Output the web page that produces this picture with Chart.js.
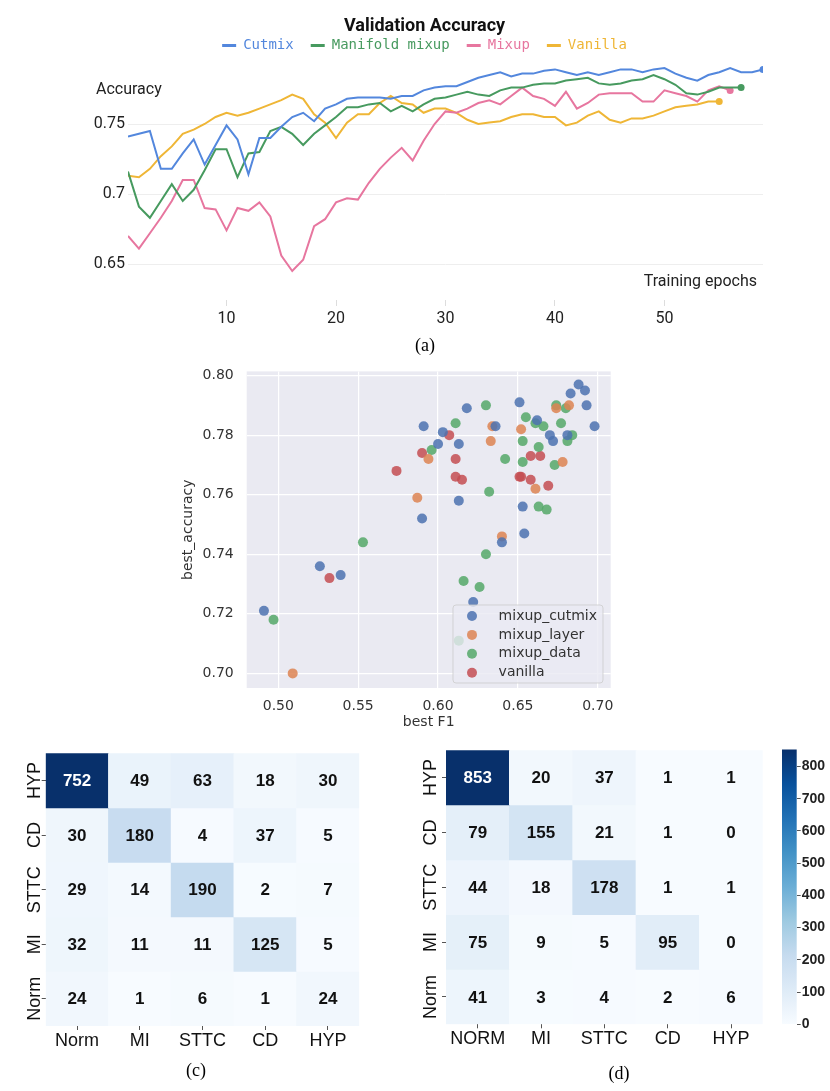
<!DOCTYPE html>
<html>
<head>
<meta charset="utf-8">
<script src="https://cdn.jsdelivr.net/npm/chart.js@4.4.1/dist/chart.umd.min.js"></script>
<style>
  body { margin: 0; background: #fff; width: 830px; height: 1091px; position: relative; overflow: hidden; }
  canvas { position: absolute; }
  .cap { position: absolute; font-family: "Liberation Serif", serif; font-size: 18px; color: #000; transform: translate(-50%, -50%); }
</style>
</head>
<body>
<canvas id="acc" style="left:0;top:0" width="830" height="335"></canvas>
<div class="cap" style="left:425px;top:345px">(a)</div>
<canvas id="scat" style="left:160px;top:350px" width="470" height="390"></canvas>
<canvas id="cmc" style="left:0;top:740px" width="400" height="320"></canvas>
<canvas id="cmd" style="left:410px;top:740px" width="360" height="320"></canvas>
<canvas id="cbar" style="left:770px;top:740px" width="60" height="300"></canvas>
<div class="cap" style="left:196px;top:1070px">(c)</div>
<div class="cap" style="left:619px;top:1073px">(d)</div>
<script>
// ---------- (a) validation accuracy ----------
var epochs = [1,2,3,4,5,6,7,8,9,10,11,12,13,14,15,16,17,18,19,20,21,22,23,24,25,26,27,28,29,30,
  31,32,33,34,35,36,37,38,39,40,41,42,43,44,45,46,47,48,49,50,51,52,53,54,55,56,57,58,59];
var cutmix = [0.741,0.743,0.745,0.718,0.718,0.729,0.739,0.721,0.735,0.749,0.739,0.714,0.740,0.740,0.748,
  0.755,0.758,0.752,0.761,0.764,0.768,0.769,0.769,0.769,0.768,0.770,0.770,0.774,0.776,0.777,
  0.777,0.780,0.783,0.785,0.787,0.784,0.786,0.786,0.788,0.789,0.787,0.785,0.787,0.785,0.787,
  0.789,0.789,0.787,0.789,0.790,0.786,0.783,0.781,0.785,0.787,0.790,0.787,0.787,0.789];
var manifold = [0.716,0.691,0.683,0.695,0.707,0.695,0.703,0.717,0.732,0.732,0.712,0.729,0.730,0.745,0.748,
  0.743,0.735,0.743,0.749,0.755,0.762,0.762,0.764,0.765,0.759,0.763,0.759,0.764,0.768,0.769,
  0.771,0.773,0.771,0.770,0.774,0.776,0.776,0.778,0.779,0.779,0.781,0.782,0.783,0.779,0.778,
  0.779,0.781,0.782,0.785,0.782,0.778,0.772,0.771,0.773,0.776,0.776,0.776];
var mixup = [0.670,0.661,0.672,0.683,0.695,0.710,0.710,0.690,0.689,0.674,0.690,0.688,0.694,0.684,0.656,
  0.645,0.653,0.677,0.682,0.694,0.697,0.696,0.708,0.718,0.726,0.733,0.724,0.738,0.750,0.759,
  0.758,0.761,0.765,0.767,0.764,0.770,0.776,0.770,0.768,0.763,0.773,0.761,0.765,0.771,0.772,
  0.772,0.772,0.766,0.766,0.774,0.772,0.770,0.766,0.774,0.777,0.774];
var vanilla = [0.713,0.712,0.718,0.727,0.734,0.743,0.746,0.750,0.755,0.758,0.756,0.758,0.761,0.764,0.767,
  0.771,0.768,0.757,0.751,0.740,0.751,0.757,0.757,0.765,0.770,0.765,0.764,0.758,0.761,0.761,
  0.758,0.753,0.750,0.751,0.752,0.755,0.757,0.757,0.755,0.755,0.749,0.751,0.756,0.759,0.753,
  0.751,0.754,0.754,0.756,0.759,0.762,0.763,0.764,0.766,0.766];
var epochTicks = [10, 20, 30, 40, 50];
var accTicks = [0.65, 0.7, 0.75];

function lineSet(label, data, color) {
  return {
    label: label, data: data, borderColor: color, backgroundColor: color,
    borderWidth: 2, tension: 0, fill: false, pointBorderWidth: 0, pointHoverRadius: 0,
    pointRadius: function (c) { return c.dataIndex === data.length - 1 ? 3.5 : 0; }
  };
}

var accText = {
  id: 'accText',
  afterDraw: function (chart) {
    var c = chart.ctx, a = chart.chartArea;
    c.save();
    c.font = '16px Roboto';
    c.fillStyle = '#222';
    c.textBaseline = 'middle';
    c.textAlign = 'left';
    c.fillText('Accuracy', 96, 90);
    c.textAlign = 'right';
    c.fillText('Training epochs', a.right - 6, a.bottom - 18);
    c.restore();
  }
};

new Chart(document.getElementById('acc'), {
  type: 'line',
  data: {
    labels: epochs,
    datasets: [
      lineSet('Cutmix', cutmix, '#5387dd'),
      lineSet('Manifold mixup', manifold, '#479a5f'),
      lineSet('Mixup', mixup, '#e7769f'),
      lineSet('Vanilla', vanilla, '#efb636')
    ]
  },
  options: {
    responsive: false, animation: false,
    layout: { padding: { left: 86, right: 67, top: 0, bottom: 0 } },
    plugins: {
      tooltip: { enabled: false },
      title: {
        display: true, text: 'Validation Accuracy', color: '#111',
        font: { family: 'Roboto', size: 18, weight: 'bold' },
        padding: { top: 16, bottom: -16 }
      },
      legend: {
        labels: {
          font: { family: 'DejaVu Sans Mono', size: 14 },
          boxWidth: 14, boxHeight: 3, padding: 17,
          generateLabels: function (chart) {
            return chart.data.datasets.map(function (d, i) {
              return { text: d.label, fillStyle: d.borderColor, strokeStyle: d.borderColor,
                lineWidth: 0, fontColor: d.borderColor, datasetIndex: i, hidden: false };
            });
          }
        }
      }
    },
    scales: {
      x: {
        type: 'linear', min: 1, max: 59,
        afterBuildTicks: function (s) { s.ticks = epochTicks.map(function (v) { return { value: v }; }); },
        afterFit: function (s) { s.height = 35; },
        grid: { drawOnChartArea: false, drawTicks: true, tickLength: 6, color: '#dddddd' },
        border: { display: false },
        ticks: { font: { family: 'Roboto', size: 16 }, color: '#222', padding: 3, maxRotation: 0 }
      },
      y: {
        min: 0.62429, max: 0.79386,
        afterBuildTicks: function (s) { s.ticks = accTicks.map(function (v) { return { value: v }; }); },
        afterFit: function (s) { s.width = 42; },
        grid: { color: '#eeeeee', drawTicks: false },
        border: { display: false },
        ticks: { font: { family: 'Roboto', size: 16 }, color: '#222', padding: 3,
          callback: function (v) { return String(+v.toFixed(2)); } }
      }
    }
  },
  plugins: [accText]
});

// ---------- (b) best F1 vs best accuracy ----------
var cutmixF1  = [0.591,0.618,0.603,0.600,0.613,0.613,0.590,0.636,0.651,0.662,0.670,0.672,0.683,0.688,0.692,0.693,0.698,0.681,0.653,0.654,0.640,0.526,0.539,0.491,0.622];
var cutmixAcc = [0.783,0.789,0.781,0.777,0.777,0.758,0.752,0.783,0.791,0.785,0.780,0.778,0.794,0.797,0.795,0.790,0.783,0.780,0.756,0.747,0.744,0.736,0.733,0.721,0.724];
var layerF1  = [0.594,0.587,0.634,0.633,0.652,0.661,0.674,0.682,0.678,0.640,0.509];
var layerAcc = [0.772,0.759,0.783,0.778,0.782,0.762,0.789,0.790,0.771,0.746,0.700];
var dataF1  = [0.630,0.611,0.596,0.655,0.661,0.666,0.677,0.674,0.680,0.681,0.684,0.653,0.663,0.642,0.653,0.673,0.632,0.663,0.668,0.553,0.630,0.616,0.626,0.497,0.613];
var dataAcc = [0.790,0.784,0.775,0.786,0.784,0.783,0.784,0.790,0.789,0.778,0.780,0.778,0.776,0.772,0.771,0.770,0.761,0.756,0.755,0.744,0.740,0.731,0.729,0.718,0.711];
var vanillaF1  = [0.574,0.590,0.607,0.611,0.611,0.615,0.651,0.652,0.658,0.664,0.658,0.669,0.532];
var vanillaAcc = [0.768,0.774,0.780,0.772,0.766,0.765,0.766,0.766,0.773,0.773,0.765,0.763,0.732];
var f1Ticks = [0.50, 0.55, 0.60, 0.65, 0.70];
var bestAccTicks = [0.70, 0.72, 0.74, 0.76, 0.78, 0.80];

function pts(xs, ys) { return xs.map(function (x, i) { return { x: x, y: ys[i] }; }); }
function scatSet(label, xs, ys, color) {
  return { label: label, data: pts(xs, ys), backgroundColor: color, borderWidth: 0, pointRadius: 5, pointHoverRadius: 5 };
}

var seabornBg = {
  id: 'seabornBg',
  beforeDraw: function (chart) {
    var a = chart.chartArea, c = chart.ctx;
    c.save(); c.fillStyle = '#eaeaf2'; c.fillRect(a.left, a.top, a.right - a.left, a.bottom - a.top); c.restore();
  }
};
var scatLegend = {
  id: 'scatLegend',
  afterDraw: function (chart) {
    var a = chart.chartArea, c = chart.ctx;
    var w = 150, h = 78, x0 = a.right - 7.7 - w, y0 = a.bottom - 5 - h;
    c.save();
    c.beginPath();
    if (c.roundRect) c.roundRect(x0, y0, w, h, 3); else c.rect(x0, y0, w, h);
    c.fillStyle = 'rgba(234,234,242,0.8)'; c.fill();
    c.strokeStyle = 'rgba(204,204,204,0.8)'; c.lineWidth = 1; c.stroke();
    c.font = '14px "DejaVu Sans"'; c.textBaseline = 'middle'; c.textAlign = 'left';
    chart.data.datasets.forEach(function (d, i) {
      var yy = y0 + 11 + i * 18.9;
      c.beginPath(); c.arc(x0 + 19, yy, 5, 0, Math.PI * 2); c.fillStyle = d.backgroundColor; c.fill();
      c.fillStyle = '#333'; c.fillText(d.label, x0 + 45.6, yy);
    });
    c.restore();
  }
};

var sFont = { family: 'DejaVu Sans', size: 14 };
new Chart(document.getElementById('scat'), {
  type: 'scatter',
  data: {
    datasets: [
      scatSet('mixup_cutmix', cutmixF1, cutmixAcc, 'rgba(76,114,176,0.85)'),
      scatSet('mixup_layer', layerF1, layerAcc, 'rgba(221,132,82,0.85)'),
      scatSet('mixup_data', dataF1, dataAcc, 'rgba(85,168,104,0.85)'),
      scatSet('vanilla', vanillaF1, vanillaAcc, 'rgba(196,78,82,0.85)')
    ]
  },
  options: {
    responsive: false, animation: false,
    layout: { padding: { left: 0, right: 19.3, top: 10, bottom: 0 } },
    plugins: { legend: { display: false }, tooltip: { enabled: false } },
    scales: {
      x: {
        type: 'linear', min: 0.4802, max: 0.7081,
        afterBuildTicks: function (s) { s.ticks = f1Ticks.map(function (v) { return { value: v }; }); },
        afterFit: function (s) { s.height = 52; },
        grid: { color: '#ffffff', lineWidth: 1.2, drawTicks: false },
        border: { display: false },
        ticks: { font: sFont, color: '#333', padding: 10, callback: function (v) { return v.toFixed(2); } },
        title: { display: true, text: 'best F1', font: sFont, color: '#333', padding: { top: 0, bottom: 9 } }
      },
      y: {
        min: 0.6951, max: 0.8014,
        afterBuildTicks: function (s) { s.ticks = bestAccTicks.map(function (v) { return { value: v }; }); },
        afterFit: function (s) { s.width = 86.7; },
        grid: { color: '#ffffff', lineWidth: 1.2, drawTicks: false },
        border: { display: false },
        ticks: { font: sFont, color: '#333', padding: 13, callback: function (v) { return v.toFixed(2); } },
        title: { display: true, text: 'best_accuracy', font: sFont, color: '#333', padding: { top: 20, bottom: 0 } }
      }
    }
  },
  plugins: [seabornBg, scatLegend]
});

// ---------- (c) / (d) confusion matrices ----------
var rowLabels = ['HYP', 'CD', 'STTC', 'MI', 'Norm'];
var colLabelsC = ['Norm', 'MI', 'STTC', 'CD', 'HYP'];
var colLabelsD = ['NORM', 'MI', 'STTC', 'CD', 'HYP'];
var matrixC = [
  [752, 49, 63, 18, 30],
  [30, 180, 4, 37, 5],
  [29, 14, 190, 2, 7],
  [32, 11, 11, 125, 5],
  [24, 1, 6, 1, 24]
];
var matrixD = [
  [853, 20, 37, 1, 1],
  [79, 155, 21, 1, 0],
  [44, 18, 178, 1, 1],
  [75, 9, 5, 95, 0],
  [41, 3, 4, 2, 6]
];
var colorbarTicks = [0, 100, 200, 300, 400, 500, 600, 700, 800];

var bluesStops = ['#f7fbff', '#deebf7', '#c6dbef', '#9ecae1', '#6baed6', '#4292c6', '#2171b5', '#08519c', '#08306b'];
function hexRgb(h) { return [parseInt(h.substr(1, 2), 16), parseInt(h.substr(3, 2), 16), parseInt(h.substr(5, 2), 16)]; }
function blues(t) {
  t = Math.max(0, Math.min(1, t));
  var p = t * 8, k = Math.min(7, Math.floor(p)), f = p - k;
  var a = hexRgb(bluesStops[k]), b = hexRgb(bluesStops[k + 1]);
  return 'rgb(' + [0, 1, 2].map(function (j) { return Math.round(a[j] + (b[j] - a[j]) * f); }).join(',') + ')';
}

function heatmap(id, cols, values, pad, yWidth, xHeight, rowLabelX) {
  var vmax = Math.max.apply(null, values.map(function (r) { return Math.max.apply(null, r); }));
  var cellText = {
    id: 'cellText',
    afterDatasetsDraw: function (chart) {
      var c = chart.ctx;
      c.save();
      c.font = 'bold 17px "Liberation Sans"'; c.textAlign = 'center'; c.textBaseline = 'middle';
      chart.data.datasets.forEach(function (d, i) {
        chart.getDatasetMeta(i).data.forEach(function (bar, j) {
          var v = values[i][j];
          c.fillStyle = v / vmax > 0.6 ? '#ffffff' : '#111111';
          c.fillText(String(v), bar.x, (bar.y + bar.base) / 2 + 1);
        });
      });
      // rotated row labels
      var ys = chart.scales.y;
      c.font = '18px "Liberation Sans"'; c.fillStyle = '#111';
      rowLabels.forEach(function (r, i) {
        c.save();
        c.translate(rowLabelX, ys.getPixelForValue(i + 0.5));
        c.rotate(-Math.PI / 2);
        c.fillText(r, 0, 0);
        c.restore();
      });
      c.restore();
    }
  };
  return new Chart(document.getElementById(id), {
    type: 'bar',
    data: {
      labels: cols,
      datasets: rowLabels.map(function (r, i) {
        return {
          label: r,
          data: cols.map(function () { return [i, i + 1]; }),
          backgroundColor: values[i].map(function (v) { return blues(v / vmax); }),
          borderWidth: 0, barPercentage: 1, categoryPercentage: 1, grouped: false
        };
      })
    },
    options: {
      responsive: false, animation: false,
      layout: { padding: pad },
      plugins: { legend: { display: false }, tooltip: { enabled: false } },
      scales: {
        x: {
          afterFit: function (s) { s.height = xHeight; },
          grid: { offset: false, drawOnChartArea: false, tickLength: 4, color: '#555' },
          border: { display: false },
          ticks: { font: { family: 'Liberation Sans', size: 18 }, color: '#111', padding: 0, maxRotation: 0 }
        },
        y: {
          type: 'linear', min: 0, max: 5, reverse: true,
          afterBuildTicks: function (s) { s.ticks = rowLabels.map(function (r, i) { return { value: i + 0.5 }; }); },
          afterFit: function (s) { s.width = yWidth; },
          grid: { drawOnChartArea: false, tickLength: 4, color: '#555' },
          border: { display: false },
          ticks: { autoSkip: false, callback: function () { return ''; } }
        }
      }
    },
    plugins: [cellText]
  });
}

heatmap('cmc', colLabelsC, matrixC, { left: 0, right: 40.7, top: 13.3, bottom: 0 }, 45.7, 34, 35);
heatmap('cmd', colLabelsD, matrixD, { left: 0, right: 7.3, top: 9, bottom: 0 }, 36, 35.7, 21.5);

// colour bar for (d)
var dMax = Math.max.apply(null, matrixD.map(function (r) { return Math.max.apply(null, r); }));
new Chart(document.getElementById('cbar'), {
  type: 'bar',
  data: {
    labels: ['count'],
    datasets: [{
      data: [[0, dMax]], borderWidth: 0, barPercentage: 1, categoryPercentage: 1,
      backgroundColor: function (ctx) {
        var ch = ctx.chart;
        if (!ch.chartArea) return blues(0.5);
        var ys = ch.scales.y;
        var g = ch.ctx.createLinearGradient(0, ys.getPixelForValue(0), 0, ys.getPixelForValue(dMax));
        bluesStops.forEach(function (col, k) { g.addColorStop(k / 8, col); });
        return g;
      }
    }]
  },
  options: {
    responsive: false, animation: false,
    layout: { padding: { left: 12, right: 0, top: 9, bottom: 15.7 } },
    plugins: { legend: { display: false }, tooltip: { enabled: false } },
    scales: {
      x: { display: false },
      y: {
        position: 'right', min: 0, max: dMax,
        afterBuildTicks: function (s) { s.ticks = colorbarTicks.map(function (v) { return { value: v }; }); },
        afterFit: function (s) { s.width = 33.3; },
        grid: { drawOnChartArea: false, tickLength: 4, color: '#555' },
        border: { display: false },
        ticks: { font: { family: 'Liberation Sans', size: 14, weight: 'bold' }, color: '#222', padding: 1 }
      }
    }
  }
});
</script>
</body>
</html>
